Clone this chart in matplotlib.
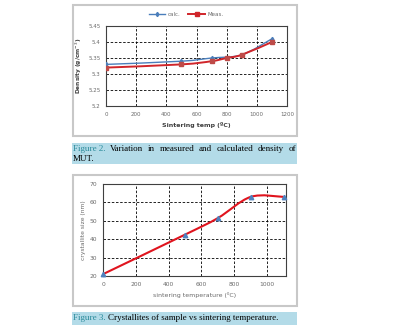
import matplotlib
matplotlib.use("Agg")
import matplotlib.pyplot as plt
from matplotlib.path import Path
from matplotlib.patches import PathPatch, Rectangle
from matplotlib.lines import Line2D
import numpy as np

# ---- data ----
temp_calc = [0, 500, 700, 900, 1100]
dens_calc = [5.33, 5.34, 5.35, 5.36, 5.41]
temp_meas = [0, 500, 700, 800, 900, 1100]
dens_meas = [5.32, 5.33, 5.34, 5.35, 5.36, 5.40]
temp_cryst = [0, 500, 700, 900, 1100]
cryst_size = [21, 42.5, 51.5, 63, 63]
top_yticks = [5.2, 5.25, 5.3, 5.35, 5.4, 5.45]
top_xticks = [0, 200, 400, 600, 800, 1000, 1200]
bot_yticks = [20, 30, 40, 50, 60, 70]
bot_xticks = [0, 200, 400, 600, 800, 1000]

W, H = 397, 328
fig = plt.figure(figsize=(W / 100, H / 100), dpi=100)
fig.patch.set_facecolor("white")

def frac(x0, y0, x1, y1):
    return [x0 / W, (H - y1) / H, (x1 - x0) / W, (y1 - y0) / H]

def smooth_patch(ax, xs, ys, color, lw, z=3):
    P = np.column_stack([xs, ys]).astype(float)
    n = len(P)
    verts = [P[0]]
    codes = [Path.MOVETO]
    for i in range(n - 1):
        p0 = P[i - 1] if i > 0 else P[i]
        p1 = P[i]
        p2 = P[i + 1]
        p3 = P[i + 2] if i + 2 < n else P[i + 1]
        c1 = p1 + (p2 - p0) / 6.0
        c2 = p2 - (p3 - p1) / 6.0
        verts += [c1, c2, p2]
        codes += [Path.CURVE4] * 3
    patch = PathPatch(Path(verts, codes), fill=False, edgecolor=color, lw=lw, zorder=z)
    ax.add_patch(patch)

# chart boxes
for box in [(73, 5, 297, 136), (73, 175, 297, 306)]:
    x0, y0, x1, y1 = box
    fig.patches.append(Rectangle((x0 / W, (H - y1) / H), (x1 - x0) / W, (y1 - y0) / H,
                                 transform=fig.transFigure, facecolor="white",
                                 edgecolor="#c8c8c8", lw=1.5, zorder=0))

tick_color = "#6a6a6a"

# ---- top chart ----
ax1 = fig.add_axes(frac(106, 26, 287, 106))
ax1.set_zorder(2)
ax1.set_xlim(0, 1200)
ax1.set_ylim(5.2, 5.45)
ax1.set_xticks(top_xticks)
ax1.set_yticks(top_yticks)
ax1.set_yticklabels(["5.2", "5.25", "5.3", "5.35", "5.4", "5.45"])
ax1.grid(True, ls=(0, (3, 2)), color="black", lw=0.6)
ax1.tick_params(labelsize=4, colors=tick_color, length=0, pad=4)
for s in ax1.spines.values():
    s.set_color("#404040")
    s.set_linewidth(0.8)
smooth_patch(ax1, temp_calc, dens_calc, "#4a7ebb", 1.0)
smooth_patch(ax1, temp_meas, dens_meas, "#d0252a", 1.4)
ax1.plot(temp_calc, dens_calc, ls="none", marker="d", ms=2.2, color="#4a7ebb", zorder=4)
ax1.plot(temp_meas, dens_meas, ls="none", marker="s", ms=2.4, color="#be4b48", zorder=4)
ax1.set_ylabel("Density (g/cm$^{-3}$)", fontsize=4.2, fontweight="bold", color="#404040", labelpad=3)
ax1.set_xlabel("Sintering temp (ºC)", fontsize=4.5, fontweight="bold", color="#404040", labelpad=4)
handles = [Line2D([], [], color="#4a7ebb", marker="d", ms=2.2, lw=1.0),
           Line2D([], [], color="#d0252a", marker="s", ms=2.4, lw=1.4)]
leg = fig.legend(handles, ["calc.", "Meas."], loc="center", bbox_to_anchor=(186 / W, 1 - 14 / H),
                 ncol=2, frameon=False, fontsize=4, handlelength=3, columnspacing=1.5,
                 handletextpad=0.4, labelcolor=tick_color)
leg.set_zorder(3)

# ---- bottom chart ----
ax2 = fig.add_axes(frac(103, 184, 286, 276))
ax2.set_zorder(2)
ax2.set_xlim(0, 1115)
ax2.set_ylim(20, 70)
ax2.set_xticks(bot_xticks)
ax2.set_yticks(bot_yticks)
ax2.grid(True, ls=(0, (3, 2)), color="black", lw=0.6)
ax2.tick_params(labelsize=4.3, colors=tick_color, length=0, pad=4)
for s in ax2.spines.values():
    s.set_color("#404040")
    s.set_linewidth(0.8)
smooth_patch(ax2, temp_cryst, cryst_size, "#e0141e", 1.5)
ax2.plot(temp_cryst, cryst_size, ls="none", marker="^", ms=3.2, color="#4f81bd", zorder=4,
         clip_on=False)
ax2.set_ylabel("crystallite size (nm)", fontsize=4.3, color=tick_color, labelpad=3)
ax2.set_xlabel("sintering temperature (⁰C)", fontsize=4.5, color=tick_color, labelpad=4)

# ---- captions ----
hl = "#b3dbe8"
teal = "#2a8a9a"
for (x0, y0, x1, y1) in [(72, 143, 297, 164), (72, 312, 297, 325)]:
    fig.patches.append(Rectangle((x0 / W, (H - y1) / H), (x1 - x0) / W, (y1 - y0) / H,
                                 transform=fig.transFigure, facecolor=hl, edgecolor="none",
                                 zorder=0))

serif = "Liberation Serif"
fs = 6.5
# justified first line of caption 1
words = [("Figure 2.", teal), ("Variation", "black"), ("in", "black"), ("measured", "black"),
         ("and", "black"), ("calculated", "black"), ("density", "black"), ("of", "black")]
texts = [fig.text(0, 0, w, fontsize=fs, family=serif, color=c, va="center") for w, c in words]
fig.canvas.draw()
r = fig.canvas.get_renderer()
widths = [t.get_window_extent(r).width for t in texts]
left, right = 73, 296
gap = (right - left - sum(widths)) / (len(words) - 1)
x = left
for t, w in zip(texts, widths):
    t.set_position((x / W, 1 - 149 / H))
    x += w + gap
fig.text(73 / W, 1 - 159 / H, "MUT.", fontsize=fs, family=serif, color="black", va="center")

t3 = fig.text(73 / W, 1 - 318.5 / H, "Figure 3.", fontsize=fs, family=serif, color=teal, va="center")
fig.canvas.draw()
w3 = t3.get_window_extent(fig.canvas.get_renderer()).width
fig.text((73 + w3 + 2) / W, 1 - 318.5 / H, "Crystallites of sample vs sintering temperature.",
         fontsize=fs, family=serif, color="black", va="center")

fig.savefig("out.png", dpi=100, facecolor="white")
